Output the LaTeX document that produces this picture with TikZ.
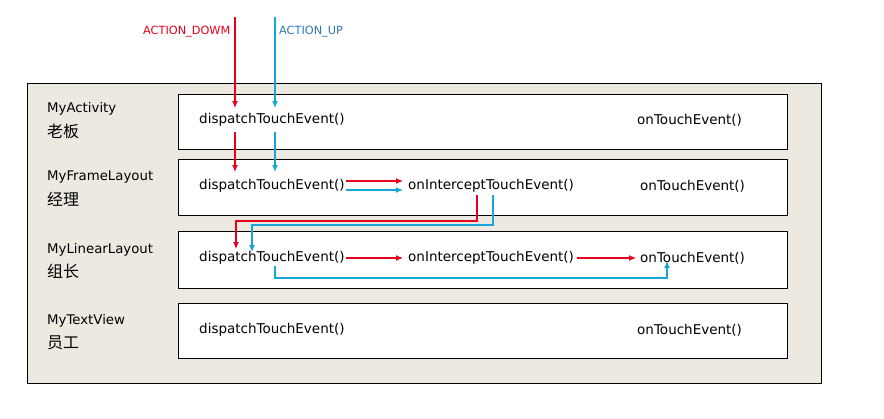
\documentclass[tikz,border=0pt]{standalone}
\usepackage{fontspec}
\setmainfont{DejaVu Sans}
\newfontfamily\cjk{Noto Sans CJK SC}
\usetikzlibrary{arrows.meta}
\definecolor{bgbeige}{HTML}{ECE9E0}
\definecolor{evred}{HTML}{E8001C}
\definecolor{evblue}{HTML}{1AA5D8}
\definecolor{upblue}{HTML}{2A7AB8}
\tikzset{
  frame/.style={draw=black, line width=0.8pt},
  rowbox/.style={draw=black, fill=white, line width=0.8pt},
  fn/.style={anchor=west, inner sep=0pt, font=\fontsize{13.5}{15}\selectfont},
  lbl/.style={anchor=west, inner sep=0pt, font=\fontsize{13.3}{15}\selectfont},
  cn/.style={anchor=west, inner sep=0pt, font=\cjk\fontsize{16}{18}\selectfont},
  act/.style={anchor=west, inner sep=0pt, font=\fontsize{11.3}{13}\selectfont},
  redarr/.style={draw=evred, line width=1.1pt, -{Latex[length=7pt,width=6pt]}},
  bluearr/.style={draw=evblue, line width=1.1pt, -{Latex[length=7pt,width=6pt]}}
}
\begin{document}
\begin{tikzpicture}[x=1pt,y=-1pt]
\useasboundingbox (0,0) rectangle (884,418);
\fill[white] (0,0) rectangle (884,418);
\draw[frame, fill=bgbeige] (27,83) rectangle (821,383);
\draw[rowbox] (178,94) rectangle (787,149);
\draw[rowbox] (178,159) rectangle (787,215);
\draw[rowbox] (178,231) rectangle (787,288);
\draw[rowbox] (178,303) rectangle (787,358);
% labels
\node[lbl] (l1) at (47,109) {MyActivity};
\node[cn] (c1) at (47,131) {老板};
\node[lbl] (l2) at (47,177) {MyFrameLayout};
\node[cn] (c2) at (47,199) {经理};
\node[lbl] (l3) at (47,250) {MyLinearLayout};
\node[cn] (c3) at (47,271) {组长};
\node[lbl] (l4) at (47,321) {MyTextView};
\node[cn] (c4) at (47,343) {员工};
% functions
\node[fn] (d1) at (199,120) {dispatchTouchEvent()};
\node[fn] (t1) at (637,120) {onTouchEvent()};
\node[fn] (d2) at (199,186) {dispatchTouchEvent()};
\node[fn] (i2) at (408,186) {onInterceptTouchEvent()};
\node[fn] (t2) at (640,186) {onTouchEvent()};
\node[fn] (d3) at (199,258) {dispatchTouchEvent()};
\node[fn] (i3) at (408,258) {onInterceptTouchEvent()};
\node[fn] (t3) at (640,258) {onTouchEvent()};
\node[fn] (d4) at (199,330) {dispatchTouchEvent()};
\node[fn] (t4) at (637,330) {onTouchEvent()};
% action labels
\node[act, text=evred] (ad) at (143,32) {ACTION\_DOWM};
\node[act, text=upblue] (au) at (279,32) {ACTION\_UP};
% coordinates
\coordinate (rs) at (235,17);
\coordinate (re1) at (235,108);
\coordinate (bs) at (275,17);
\coordinate (be1) at (275,108);
\coordinate (rs2) at (235,132);
\coordinate (re2) at (235,172);
\coordinate (bs2) at (275,132);
\coordinate (be2) at (275,172);
\coordinate (rh1) at (346,181);
\coordinate (rh1e) at (403,181);
\coordinate (bh1) at (346,190);
\coordinate (bh1e) at (403,190);
\coordinate (rd) at (477,195);
\coordinate (rdb) at (477,221);
\coordinate (rdl) at (236,221);
\coordinate (rde) at (236,249);
\coordinate (bd) at (493,195);
\coordinate (bdb) at (493,225);
\coordinate (bdl) at (252,225);
\coordinate (bde) at (252,252);
\coordinate (rh2) at (346,258);
\coordinate (rh2e) at (403,258);
\coordinate (rh3) at (577,258);
\coordinate (rh3e) at (636,258);
\coordinate (bu) at (275,266);
\coordinate (bub) at (275,278);
\coordinate (bur) at (667,278);
\coordinate (bue) at (667,261);
% arrows
\draw[redarr] (rs) -- (re1);
\draw[bluearr] (bs) -- (be1);
\draw[redarr] (rs2) -- (re2);
\draw[bluearr] (bs2) -- (be2);
\draw[redarr] (rh1) -- (rh1e);
\draw[bluearr] (bh1) -- (bh1e);
\draw[redarr] (rd) -- (rdb) -- (rdl) -- (rde);
\draw[bluearr] (bd) -- (bdb) -- (bdl) -- (bde);
\draw[redarr] (rh2) -- (rh2e);
\draw[redarr] (rh3) -- (rh3e);
\draw[bluearr] (bu) -- (bub) -- (bur) -- (bue);
\end{tikzpicture}
\end{document}
